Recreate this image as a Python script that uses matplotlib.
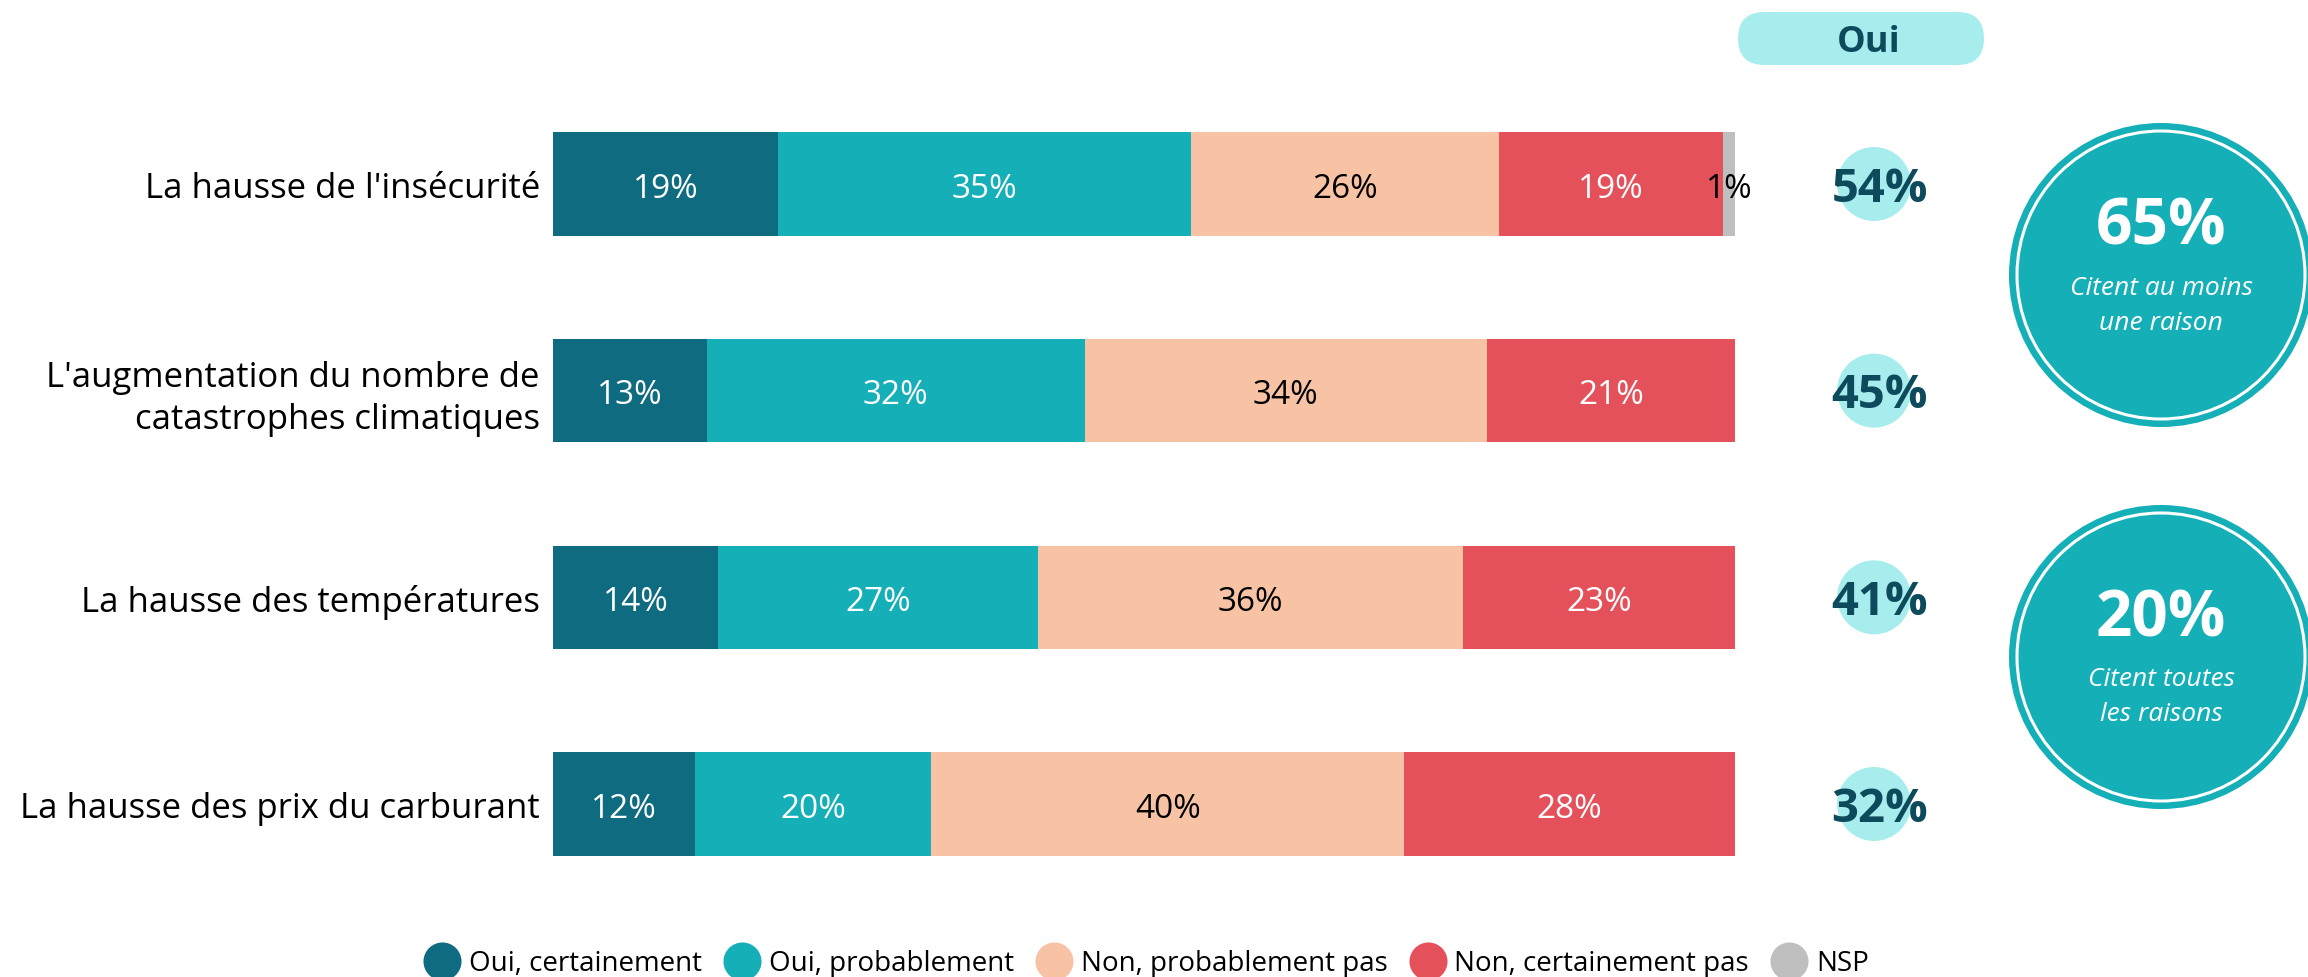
import matplotlib
matplotlib.use("Agg")
import matplotlib.pyplot as plt
from matplotlib.patches import FancyBboxPatch, Circle
from matplotlib.lines import Line2D

plt.rcParams['font.family'] = ['Open Sans', 'DejaVu Sans']

# ---------------- data ----------------
categories = ["La hausse de l'insécurité",
              "L'augmentation du nombre de\ncatastrophes climatiques",
              "La hausse des températures",
              "La hausse des prix du carburant"]
series_names = ["Oui, certainement", "Oui, probablement", "Non, probablement pas",
                "Non, certainement pas", "NSP"]
oui_certainement = [19, 13, 14, 12]
oui_probablement = [35, 32, 27, 20]
non_probablement = [26, 34, 36, 40]
non_certainement = [19, 21, 23, 28]
nsp = [1, 0, 0, 0]
oui_total = [54, 45, 41, 32]
summary_values = [65, 20]
summary_texts = ["Citent au moins\nune raison", "Citent toutes\nles raisons"]
column_header = "Oui"

series = [oui_certainement, oui_probablement, non_probablement, non_certainement, nsp]
colors = ["#0F6B80", "#14AFB7", "#F7C3A4", "#E5515A", "#BFBFBF"]
text_colors = ["white", "white", "black", "white", "black"]
dark = "#0D4A5C"
light = "#A7EDED"

W, H = 2308, 977
fig = plt.figure(figsize=(W / 100, H / 100), dpi=100)

# main axes spanning the figure; x in percent, y in category index
ax = fig.add_axes([0, 0, 1, 1])
x0_px, x100_px = 553, 1735
ppu = (x100_px - x0_px) / 100.0
ax.set_xlim(-x0_px / ppu, (W - x0_px) / ppu)
y_top_px, y_bot_px = 184, 804
ypu = (y_bot_px - y_top_px) / 3.0
ax.set_ylim(3 + (H - y_bot_px) / ypu, -y_top_px / ypu)
ax.axis('off')

dy = 5 / ypu  # small downward nudge for optical centring
ypos = list(range(len(categories)))
left = [0] * len(categories)
for vals, col, tcol in zip(series, colors, text_colors):
    ax.barh(ypos, vals, left=left, height=0.5, color=col, edgecolor='none')
    for i, v in enumerate(vals):
        if v > 0:
            ax.text(left[i] + v / 2, i + dy, f"{v}%", ha='center', va='center',
                    fontsize=24, color=tcol)
    left = [l + v for l, v in zip(left, vals)]

for i, c in enumerate(categories):
    extra = 3 / ypu if "\n" in c else 0
    ax.text(-1.1, i + dy + extra, c, ha='right', va='center', fontsize=25,
            color='black', linespacing=1.3)

# Oui column
oui_x = (1874 - x0_px) / ppu
ax.scatter([oui_x] * len(oui_total), ypos, s=(74 * 0.72) ** 2, color=light,
           edgecolor='none', zorder=2)
for i, v in enumerate(oui_total):
    ax.text(oui_x + 0.5, i + dy, f"{v}%", ha='center', va='center', fontsize=34,
            fontweight='bold', color=dark, zorder=3)

# overlay in pixel coordinates for decorations
ov = fig.add_axes([0, 0, 1, 1])
ov.set_xlim(0, W)
ov.set_ylim(H, 0)
ov.axis('off')
ov.patch.set_alpha(0)

pill = FancyBboxPatch((1738, 12), 246, 53, boxstyle="round,pad=0,rounding_size=26.5",
                      facecolor=light, edgecolor='none')
ov.add_patch(pill)
ov.text(1869, 43, column_header, ha='center', va='center', fontsize=26,
        fontweight='bold', color=dark)

centers = [(2161, 275), (2161, 657)]
offsets = [(-47, 31), (-37, 40)]
for (cx, cy), (o1, o2), val, txt in zip(centers, offsets, summary_values, summary_texts):
    ov.add_patch(Circle((cx, cy), 152, facecolor="#14AFB7", edgecolor='none'))
    ov.add_patch(Circle((cx, cy), 144, facecolor='none', edgecolor='white', lw=2.2))
    ov.text(cx, cy + o1, f"{val}%", ha='center', va='center', fontsize=46,
            fontweight='bold', color='white')
    ov.text(cx, cy + o2, txt, ha='center', va='center', fontsize=19,
            style='italic', color='white', linespacing=1.55)

handles = [Line2D([0], [0], marker='o', linestyle='none', markersize=27.4,
                  markerfacecolor=c, markeredgecolor='none') for c in colors]
fig.legend(handles, series_names, loc='center', bbox_to_anchor=(0.497, 1 - 964 / H),
           ncol=5, frameon=False, fontsize=20, handletextpad=0.36,
           columnspacing=0.85, handlelength=1.2, borderaxespad=0, borderpad=0)

fig.savefig("out.png", dpi=100)
